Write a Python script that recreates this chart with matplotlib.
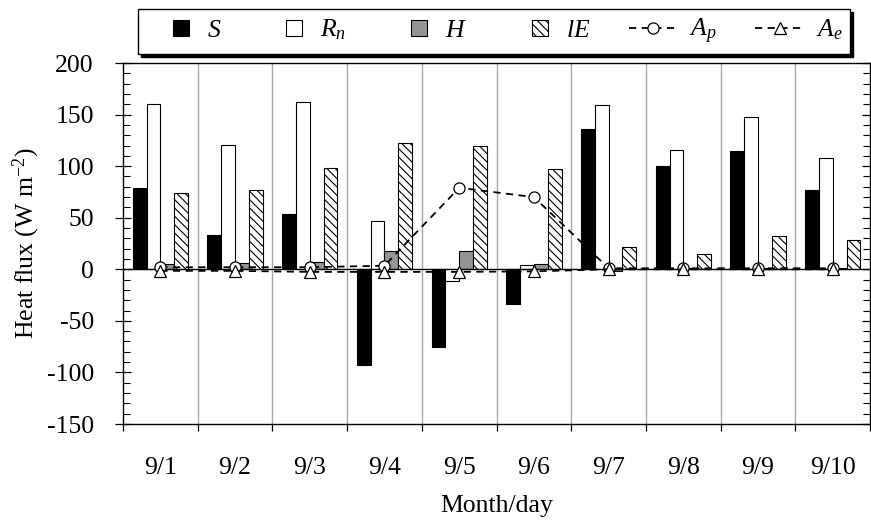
import matplotlib
matplotlib.use("Agg")
import matplotlib.pyplot as plt
import numpy as np
from matplotlib.ticker import MultipleLocator, FixedLocator, NullFormatter, FixedFormatter
from matplotlib.legend_handler import HandlerPatch
from matplotlib.patches import Rectangle

plt.rcParams['font.family'] = ['Liberation Serif', 'DejaVu Serif']
plt.rcParams['mathtext.fontset'] = 'custom'
plt.rcParams['mathtext.rm'] = 'Liberation Serif'
plt.rcParams['mathtext.it'] = 'Liberation Serif:italic'
plt.rcParams['hatch.linewidth'] = 0.8
plt.rcParams['axes.unicode_minus'] = False

days = ['9/1', '9/2', '9/3', '9/4', '9/5', '9/6', '9/7', '9/8', '9/9', '9/10']
S = [79, 33, 54, -93, -75, -34, 136, 100, 115, 77]
Rn = [160, 121, 162, 47, -11, 4, 159, 116, 148, 108]
H = [5, 6, 7.5, 18, 18, 5, -2, 1, 1, 1]
lE = [74, 77, 98, 122, 120, 97, 22, 15, 32, 28]
Ap = [2, 2, 2, 3.5, 79, 70, 1, 1, 1, 1]
Ae = [-1.5, -1.5, -2.5, -2.5, -2.5, -2, 0, 0, 0, 0]

FS = 18.5

fig = plt.figure(figsize=(8.71, 5.2), dpi=100)
ax = fig.add_axes([0.1412, 0.1846, 0.8578, 0.6942])

x = np.arange(len(days)) + 0.5
w = 0.185
b1 = ax.bar(x - 1.5 * w, S, w, color='black', edgecolor='black', linewidth=0.8, zorder=3)
b2 = ax.bar(x - 0.5 * w, Rn, w, color='white', edgecolor='black', linewidth=0.8, zorder=3)
b3 = ax.bar(x + 0.5 * w, H, w, color='#959595', edgecolor='black', linewidth=0.8, zorder=3)
b4 = ax.bar(x + 1.5 * w, lE, w, color='white', edgecolor='black', linewidth=0.8, hatch='\\\\\\\\', zorder=3)

ax.axhline(0, color='black', linewidth=1.0, zorder=4)

l1, = ax.plot(x, Ap, linestyle=(0, (4, 3)), color='black', linewidth=1.3, marker='o', markersize=8,
              markerfacecolor='white', markeredgecolor='black', markeredgewidth=0.9, zorder=5)
l2, = ax.plot(x, Ae, linestyle=(0, (4, 3)), color='black', linewidth=1.3, marker='^', markersize=9,
              markerfacecolor='white', markeredgecolor='black', markeredgewidth=0.9, zorder=6)

ax.set_xlim(0, len(days))
ax.set_ylim(-150, 200)

for b in range(1, len(days)):
    ax.axvline(b, color='#a8a8a8', linewidth=1.0, zorder=1)

ax.xaxis.set_major_locator(FixedLocator(np.arange(0, len(days) + 1)))
ax.xaxis.set_major_formatter(NullFormatter())
ax.xaxis.set_minor_locator(FixedLocator(x))
ax.xaxis.set_minor_formatter(FixedFormatter(days))
ax.tick_params(axis='x', which='major', direction='out', length=5, width=0.9, top=False)
ax.tick_params(axis='x', which='minor', length=0, pad=24, labelsize=FS, top=False)

ax.yaxis.set_major_locator(MultipleLocator(50))
ax.yaxis.set_minor_locator(MultipleLocator(10))
ax.tick_params(axis='y', which='major', direction='inout', length=12, width=0.9, pad=15,
               labelsize=FS, right=True)
ax.tick_params(axis='y', which='minor', direction='in', length=5, width=0.8, right=True)

for sp in ax.spines.values():
    sp.set_linewidth(1.0)

ax.set_ylabel('Heat flux (W m$^{\\mathregular{-2}}$)', fontsize=FS, labelpad=3)
ax.set_xlabel('Month/day', fontsize=FS, labelpad=11)


def square(legend, orig_handle, xdescent, ydescent, width, height, fontsize):
    side = 0.62 * fontsize
    return Rectangle((width - side - 0.25 * fontsize - xdescent, (height - side) / 2 - ydescent), side, side)


handles = [b1.patches[0], b2.patches[0], b3.patches[0], b4.patches[0], l1, l2]
labels = ['$S$', '$R_n$', '$H$', '$lE$', '$A_p$', '$A_e$']
hm = {Rectangle: HandlerPatch(patch_func=square)}
leg = fig.legend(handles, labels, handler_map=hm, loc='upper left', bbox_to_anchor=(0.159, 0.982),
                 ncol=6, fontsize=FS, frameon=True, fancybox=False, edgecolor='black', framealpha=1,
                 shadow={'color': 'black', 'alpha': 1.0}, handlelength=1.9, handleheight=0.7,
                 columnspacing=1.5, handletextpad=0.45, borderpad=0.3, borderaxespad=0)
leg.get_frame().set_linewidth(1.0)

fig.savefig('out.png', dpi=100)
